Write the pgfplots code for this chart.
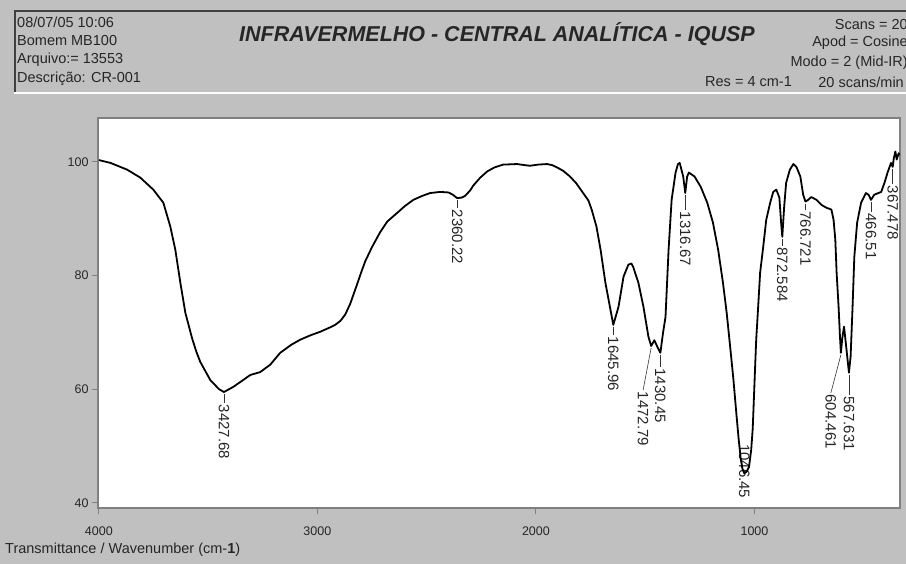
\documentclass[border=0pt]{standalone}
\usepackage{pgfplots}
\pgfplotsset{compat=1.18}
\usepackage{fontspec}
\setmainfont{Liberation Sans}

\definecolor{panel}{HTML}{C0C0C0}
\definecolor{frame}{HTML}{808080}

% IR spectrum, transmittance (%) vs wavenumber (cm-1)
\pgfplotstableread{
wn T
4000 100.3
3947 99.8
3870 98.6
3810 97.2
3751 95.1
3705 92.8
3673 88.6
3650 84.5
3627 78.7
3604 73.4
3573 68.9
3554 66.6
3536 64.8
3490 61.6
3450 60.0
3427.68 59.5
3385 60.4
3340 61.6
3307 62.5
3262 63.0
3216 64.3
3170 66.4
3120 67.8
3079 68.7
3030 69.5
2987 70.1
2940 70.9
2919 71.3
2895 72.0
2873 73.1
2850 75.0
2827 77.5
2800 80.5
2781 82.5
2750 85.0
2713 87.6
2680 89.5
2635 91.0
2600 92.2
2561 93.3
2520 94.0
2484 94.5
2438 94.7
2400 94.6
2380 94.2
2360.22 93.6
2340 93.7
2324 94.0
2300 95.0
2287 95.8
2255 97.2
2223 98.3
2190 99.0
2150 99.5
2086 99.6
2050 99.4
2027 99.3
1990 99.5
1949 99.6
1925 99.4
1903 99.0
1875 98.4
1844 97.4
1815 96.2
1784 94.5
1760 93.2
1745 91.6
1723 88.6
1704 84.5
1682 78.7
1659 74.0
1645.96 71.3
1622 74.5
1599 79.8
1577 81.9
1563 82.1
1554 81.4
1531 78.7
1508 74.5
1485 69.2
1472.79 67.6
1458 68.6
1445 67.5
1430.45 66.4
1418 70.0
1407 72.7
1393 84.5
1379 93.3
1361 98.1
1350 99.6
1342 99.8
1326 97.4
1316.67 94.5
1308 97.4
1300 98.1
1274 97.4
1246 95.6
1216 92.8
1190 89.3
1166 84.5
1144 78.7
1127 73.4
1111 67.4
1096 61.6
1083 55.8
1072 51.1
1063 47.8
1055 46.0
1046.45 45.2
1036 45.5
1025 46.3
1015 49.3
1008 53.0
1004 56.9
998 62.9
992 68.7
983 74.5
974 80.5
960 85.0
946 89.8
928 92.8
914 94.7
900 95.1
886 93.7
878 89.3
872.584 86.8
864 92.1
855 96.3
838 98.6
822 99.6
808 99.1
790 97.4
777 94.2
766.721 93.0
754 93.3
740 93.8
716 93.3
693 92.4
670 91.9
648 91.6
638 89.8
630 86.3
624 80.5
615 74.5
609 69.5
604.461 66.4
598 69.0
590 71.0
580 67.4
567.631 62.9
560 65.7
551 74.5
543 83.3
530 89.3
512 92.8
490 94.5
478 94.2
466.51 93.3
452 94.2
420 94.7
405 96.3
390 98.2
375 99.8
367.478 99.1
362 100.7
355 101.8
349 100.4
340 101.5
334 101.2
}\spectrum

\newcommand{\pkfont}{\fontsize{15}{15}\selectfont}
% peak label: wavenumber, T, leader dx, leader dy, text
\newcommand{\peak}[5]{%
  \draw[line width=0.6pt, black!80] ([yshift=-2pt]axis cs:#1,#2) --
    ([xshift=#3pt, yshift=#4pt-2pt]axis cs:#1,#2)
    node[rotate=-90, anchor=west, inner sep=1.5pt, font=\pkfont, text=black!85] {#5};}

\begin{document}
\begin{tikzpicture}[x=1pt,y=1pt]
\useasboundingbox (0,0) rectangle (906,564);
\begin{scope}
\clip (0,0) rectangle (906,564);
\fill[panel] (0,0) rectangle (906,564);

% header panel
\draw[black!75, line width=2pt] (15,471) -- (15,553) -- (906,553);
\draw[white, line width=2pt] (14,471) -- (906,471);

\begin{scope}[every node/.style={font=\fontsize{14.5}{15}\selectfont, text=black!85, inner sep=0pt}]
\node[anchor=west] at (17,542) {08/07/05 10:06};
\node[anchor=west] at (17,523) {Bomem MB100};
\node[anchor=west] at (17,504) {Arquivo:= 13553};
\node[anchor=west] at (17,485) {Descrição: CR-001};
\node[anchor=east] at (908,539) {Scans = 20};
\node[anchor=east] at (908,521) {Apod = Cosine};
\node[anchor=east] at (908,501) {Modo = 2 (Mid-IR)};
\node[anchor=west] at (705,482) {Res = 4 cm-1};
\node[anchor=east] at (904,482) {20 scans/min};
\node[anchor=west] at (5,14) {Transmittance / Wavenumber (cm-{\bfseries 1})};
\end{scope}
\node[font=\fontsize{21.5}{22}\selectfont\bfseries\itshape, text=black!85, inner sep=0pt]
  at (497,530) {INFRAVERMELHO - CENTRAL ANALÍTICA - IQUSP};

\begin{axis}[
  at={(98pt,56pt)}, anchor=south west,
  width=802pt, height=390pt, scale only axis,
  x dir=reverse,
  xmin=334, xmax=4004, ymin=39.1, ymax=107.7,
  xtick={1000,2000,3000,4000}, ytick={40,60,80,100},
  xtick pos=bottom, ytick pos=left,
  tick align=outside, major tick length=6pt,
  axis line style={frame, line width=1.5pt},
  tick style={frame, line width=1pt},
  axis background/.style={fill=white},
  ticklabel style={font=\fontsize{12.5}{13}\selectfont, text=black!85},
  xticklabel style={yshift=-9pt},
  /pgf/number format/assume math mode=true,
  /pgf/number format/set thousands separator={},
  clip mode=individual,
]
\peak{3427.68}{59.5}{0}{-9}{3427.68}
\peak{2360.22}{93.6}{0}{-8}{2360.22}
\peak{1645.96}{71.3}{0}{-8}{1645.96}
\peak{1472.79}{67.6}{-8}{-42}{1472.79}
\peak{1430.45}{66.4}{0}{-12}{1430.45}
\peak{1316.67}{94.5}{0}{-15}{1316.67}
\peak{872.584}{86.8}{0}{-7}{872.584}
\peak{766.721}{93.0}{0}{-6}{766.721}
\peak{604.461}{66.4}{-10}{-38}{604.461}
\peak{567.631}{62.9}{0}{-20}{567.631}
\peak{466.51}{93.3}{0}{-10}{466.51}
\peak{367.478}{99.1}{0}{-15}{367.478}
\node[rotate=-90, anchor=east, inner sep=1.5pt, font=\pkfont, text=black!85]
  at (axis cs:1046.45,40.5) {1046.45};
\addplot[black, line width=1.8pt, line join=round] table[x=wn, y=T] {\spectrum};
\end{axis}
\end{scope}
\end{tikzpicture}
\end{document}
